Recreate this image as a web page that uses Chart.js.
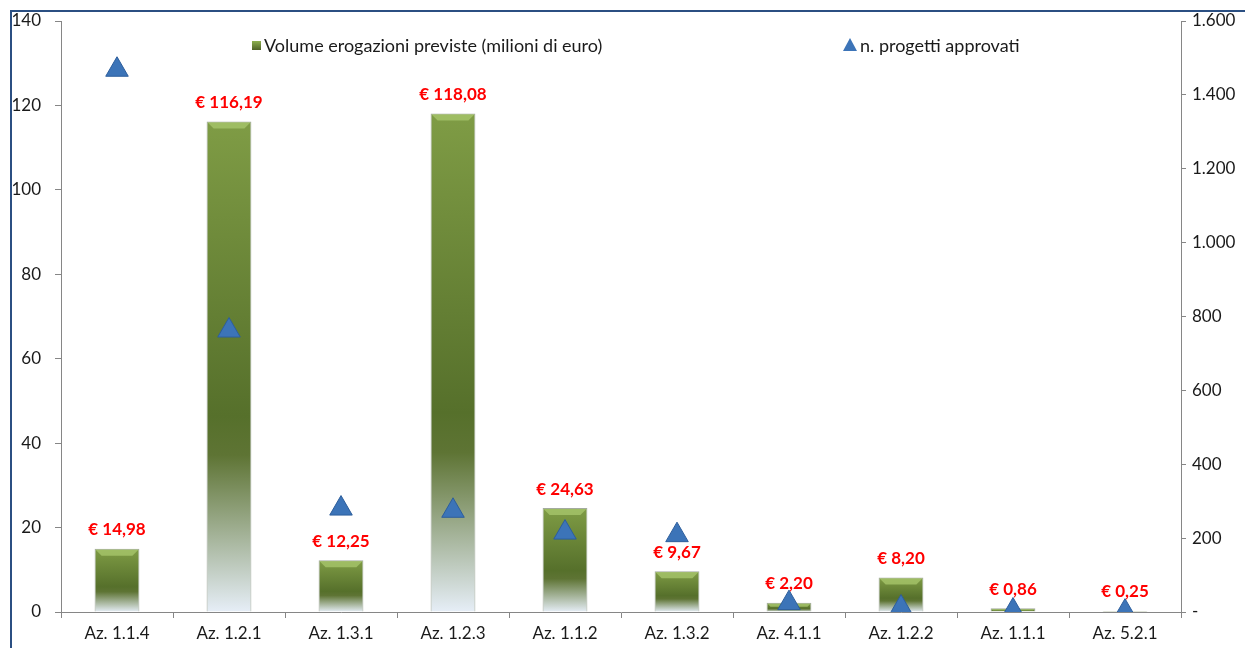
<!DOCTYPE html>
<html>
<head>
<meta charset="utf-8">
<script src="https://cdn.jsdelivr.net/npm/chart.js@4/dist/chart.umd.min.js"></script>
<style>
  html, body { margin: 0; padding: 0; background: #fff; }
  #wrap { width: 1245px; height: 648px; position: relative; }
</style>
</head>
<body>
<div id="wrap"><canvas id="chart"></canvas></div>
<script>
const categories = ['Az. 1.1.4', 'Az. 1.2.1', 'Az. 1.3.1', 'Az. 1.2.3', 'Az. 1.1.2',
  'Az. 1.3.2', 'Az. 4.1.1', 'Az. 1.2.2', 'Az. 1.1.1', 'Az. 5.2.1'];
const volume = [14.98, 116.19, 12.25, 118.08, 24.63, 9.67, 2.2, 8.2, 0.86, 0.25];
const progetti = [1468, 762, 280, 274, 215, 208, 24, 12, 4, 1];
const leftTicks = [0, 20, 40, 60, 80, 100, 120, 140];
const rightTicks = [0, 200, 400, 600, 800, 1000, 1200, 1400, 1600];

const FONT = 'Lato, "Liberation Sans", sans-serif';

function formatIt(v) {
  if (v === 0) return '-';
  return String(v).replace(/\B(?=(\d{3})+(?!\d))/g, '.');
}

function euro(v) {
  return '€ ' + v.toFixed(2).replace('.', ',');
}

// gradient per barra: verde in alto, piu scuro, poi sfuma verso il basso
function barGradient(context) {
  const chart = context.chart;
  const { ctx, chartArea, scales } = chart;
  if (!chartArea || context.dataIndex === undefined) return '#76923C';
  const v = volume[context.dataIndex];
  const top = scales.y.getPixelForValue(v);
  const bottom = scales.y.getPixelForValue(0);
  if (bottom - top < 1) return '#76923C';
  const g = ctx.createLinearGradient(0, top, 0, bottom);
  g.addColorStop(0, '#7F9C45');
  g.addColorStop(0.6, '#56702B');
  g.addColorStop(0.68, '#5E7434');
  g.addColorStop(1, '#E6EEF7');
  return g;
}

const frame = {
  id: 'frame',
  beforeDraw(chart) {
    const { ctx } = chart;
    ctx.save();
    ctx.fillStyle = '#fff';
    ctx.fillRect(0, 0, chart.width, chart.height);
    ctx.strokeStyle = '#2B4F82';
    ctx.lineWidth = 2;
    ctx.strokeRect(11, 11, chart.width + 10, chart.height + 10);
    ctx.restore();
  },
};

// smusso chiaro sulla cima delle barre
const bevel = {
  id: 'bevel',
  afterDatasetDraw(chart, args) {
    if (args.index !== 1) return;
    const { ctx } = chart;
    ctx.save();
    args.meta.data.forEach((bar) => {
      const h = bar.base - bar.y;
      if (h < 3) return;
      const b = Math.min(6, h / 3);
      const l = bar.x - bar.width / 2 + 1;
      const r = bar.x + bar.width / 2 - 1;
      ctx.beginPath();
      ctx.moveTo(l, bar.y + 1);
      ctx.lineTo(r, bar.y + 1);
      ctx.lineTo(r - b, bar.y + 1 + b);
      ctx.lineTo(l + b, bar.y + 1 + b);
      ctx.closePath();
      ctx.fillStyle = 'rgba(170,200,110,0.75)';
      ctx.fill();
    });
    ctx.restore();
  },
};

const barLabels = {
  id: 'barLabels',
  afterDatasetsDraw(chart) {
    const { ctx } = chart;
    const meta = chart.getDatasetMeta(1);
    ctx.save();
    ctx.font = 'bold 17px ' + FONT;
    ctx.fillStyle = '#FF0000';
    ctx.textAlign = 'center';
    ctx.textBaseline = 'middle';
    meta.data.forEach((bar, i) => {
      ctx.fillText(euro(volume[i]), bar.x, bar.y - 19);
    });
    ctx.restore();
  },
};

const customLegend = {
  id: 'customLegend',
  afterDraw(chart) {
    const { ctx } = chart;
    ctx.save();
    ctx.font = '18px ' + FONT;
    ctx.textBaseline = 'middle';
    // quadrato verde
    const g = ctx.createLinearGradient(0, 41, 0, 50);
    g.addColorStop(0, '#8DB04F');
    g.addColorStop(1, '#4F6228');
    ctx.fillStyle = g;
    ctx.fillRect(252, 41, 9, 9);
    ctx.fillStyle = '#1a1a1a';
    ctx.fillText('Volume erogazioni previste (milioni di euro)', 264, 46);
    // triangolo blu
    ctx.beginPath();
    ctx.moveTo(850, 38);
    ctx.lineTo(857, 51);
    ctx.lineTo(843, 51);
    ctx.closePath();
    ctx.fillStyle = '#3C74B8';
    ctx.fill();
    ctx.fillStyle = '#1a1a1a';
    ctx.fillText('n. progetti approvati', 860, 46);
    ctx.restore();
  },
};

Chart.defaults.font.family = FONT;
Chart.defaults.font.size = 17;
Chart.defaults.color = '#333';

new Chart(document.getElementById('chart'), {
  data: {
    labels: categories,
    datasets: [
      {
        type: 'line',
        label: 'n. progetti approvati',
        data: progetti,
        yAxisID: 'y1',
        showLine: false,
        pointStyle: 'triangle',
        pointRadius: 13,
        backgroundColor: '#3C74B8',
        borderColor: '#2D5E9C',
        borderWidth: 1,
        order: 0,
      },
      {
        type: 'bar',
        label: 'Volume erogazioni previste (milioni di euro)',
        data: volume,
        yAxisID: 'y',
        backgroundColor: barGradient,
        borderColor: 'rgba(140,150,135,0.8)',
        borderWidth: 1,
        barPercentage: 0.8,
        categoryPercentage: 0.5,
        order: 1,
      },
    ],
  },
  options: {
    responsive: true,
    maintainAspectRatio: false,
    animation: false,
    layout: { padding: { top: 21, left: 0, right: 0, bottom: 0 } },
    plugins: {
      legend: { display: false },
      tooltip: { enabled: false },
    },
    scales: {
      x: {
        offset: true,
        grid: { display: true, drawOnChartArea: false, offset: true, color: '#868686', tickLength: 6 },
        border: { color: '#868686' },
        ticks: { color: '#1a1a1a', padding: 5, maxRotation: 0 },
        afterFit(scale) { scale.height = 36; scale.paddingLeft = 0; scale.paddingRight = 0; },
      },
      y: {
        position: 'left',
        min: 0,
        max: 140,
        afterBuildTicks(scale) { scale.ticks = leftTicks.map((v) => ({ value: v })); },
        grid: { display: true, drawOnChartArea: false, color: '#868686', tickLength: 6 },
        border: { color: '#868686' },
        ticks: { color: '#1a1a1a', padding: 14 },
        afterFit(scale) { scale.width = 61; scale.paddingTop = 0; scale.paddingBottom = 0; },
      },
      y1: {
        position: 'right',
        min: 0,
        max: 1600,
        afterBuildTicks(scale) { scale.ticks = rightTicks.map((v) => ({ value: v })); },
        grid: { display: true, drawOnChartArea: false, color: '#868686', tickLength: 5 },
        border: { color: '#868686' },
        ticks: { color: '#1a1a1a', padding: 6, callback: (v) => formatIt(v) },
        afterFit(scale) { scale.width = 64; scale.paddingTop = 0; scale.paddingBottom = 0; },
      },
    },
  },
  plugins: [frame, bevel, barLabels, customLegend],
});
</script>
</body>
</html>
